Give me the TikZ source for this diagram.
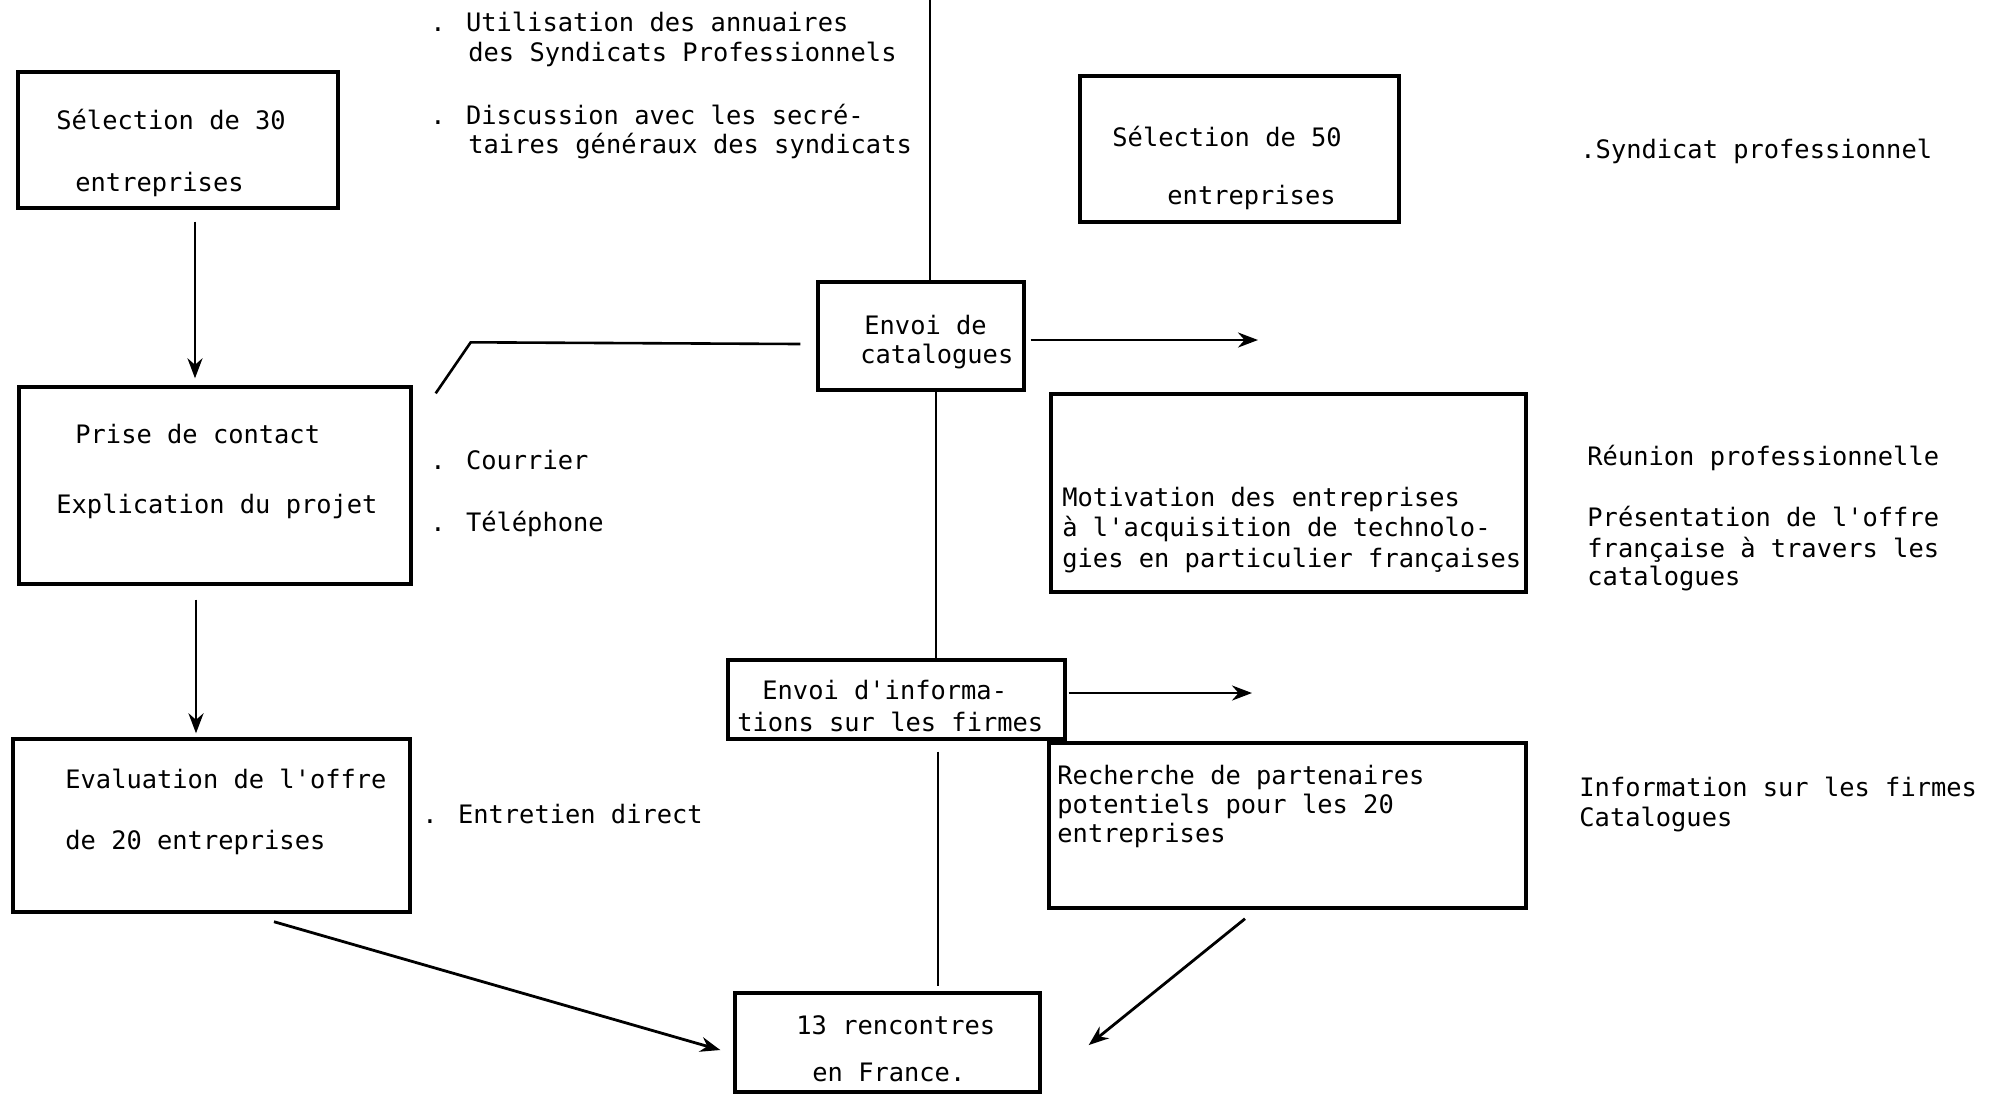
\documentclass[tikz,border=0pt]{standalone}
\usepackage{fontspec}
\newfontfamily\tw{DejaVu Sans Mono}
\usetikzlibrary{arrows.meta,fit}
\begin{document}
\begin{tikzpicture}[x=0.5pt,y=-0.5pt,
  box/.style={draw, line width=1.7pt, inner sep=0pt},
  txt/.style={font={\tw\fontsize{12.7pt}{15pt}\selectfont}, inner sep=0pt, anchor=west, text height=9.5pt, text depth=3pt},
  ctxt/.style={txt, anchor=center},
  conn/.style={line width=1.3pt},
  arr/.style={line width=1.4pt, -{Stealth[length=10pt,width=7.5pt]}},
  thinline/.style={line width=0.9pt}]
\useasboundingbox[fill=white] (0,0) rectangle (2000,1094);

% ---------- boxes ----------
\node[box, fit={(18,72)(338,208)}] (b30) {};
\node[box, fit={(19,387)(411,584)}] (bprise) {};
\node[box, fit={(13,739)(410,912)}] (beval) {};
\node[box, fit={(818,282)(1024,390)}] (bcat) {};
\node[box, fit={(728,660)(1065,739)}] (binfo) {};
\node[box, fit={(735,993)(1040,1092)}] (brenc) {};
\node[box, fit={(1080,76)(1399,222)}] (b50) {};
\node[box, fit={(1051,394)(1526,592)}] (bmot) {};
\node[box, fit={(1049,743)(1526,908)}] (brech) {};

% ---------- texts in boxes ----------
\node[txt] (t30a) at (56,123) {Sélection de 30};
\node[txt] (t30b) at (75,185) {entreprises};
\node[txt] (tpra) at (75,437) {Prise de contact};
\node[txt] (tprb) at (56,507) {Explication du projet};
\node[txt] (teva) at (65,782) {Evaluation de l'offre};
\node[txt] (tevb) at (65,843) {de 20 entreprises};
\node[txt] (tcata) at (864,328) {Envoi de};
\node[txt] (tcatb) at (860,357) {catalogues};
\node[txt] (tinfa) at (762,693) {Envoi d'informa-};
\node[txt] (tinfb) at (737,725) {tions sur les firmes};
\node[txt] (trena) at (796,1028) {13 rencontres};
\node[txt] (trenb) at (812,1075) {en France.};
\node[txt] (t50a) at (1112,140) {Sélection de 50};
\node[txt] (t50b) at (1167,198) {entreprises};
\node[txt] (tmota) at (1062,500) {Motivation des entreprises};
\node[txt] (tmotb) at (1062,530) {à l'acquisition de technolo-};
\node[txt] (tmotc) at (1062,561) {gies en particulier françaises};
\node[txt] (treca) at (1057,778) {Recherche de partenaires};
\node[txt] (trecb) at (1057,807) {potentiels pour les 20};
\node[txt] (trecc) at (1057,836) {entreprises};

% ---------- side texts ----------
\node[txt] (tuta) at (430,25) {. Utilisation des annuaires};
\node[txt] (tutb) at (468,55) {des Syndicats Professionnels};
\node[txt] (tdia) at (430,118) {. Discussion avec les secré-};
\node[txt] (tdib) at (468,147) {taires généraux des syndicats};
\node[txt] (tcou) at (430,463) {. Courrier};
\node[txt] (ttel) at (430,525) {. Téléphone};
\node[txt] (tent) at (422,817) {. Entretien direct};
\node[txt] (tsyn) at (1580,152) {.Syndicat professionnel};
\node[txt] (treu) at (1587,459) {Réunion professionnelle};
\node[txt] (tprea) at (1587,520) {Présentation de l'offre};
\node[txt] (tpreb) at (1587,551) {française à travers les};
\node[txt] (tprec) at (1587,579) {catalogues};
\node[txt] (tinfoa) at (1579,790) {Information sur les firmes};
\node[txt] (tinfob) at (1579,820) {Catalogues};

% ---------- connectors ----------
\coordinate (top) at (930,0);
\coordinate (c1) at (1258,340);
\coordinate (c2) at (1252,693);

\draw[arr] ([shift={(17,12)}]b30.south) -- ([shift={(17,-7)}]b30.south |- bprise.north);
\draw[arr] ([shift={(-19,14)}]bprise.south) -- ([shift={(-19,-4)}]bprise.south |- beval.north);
\draw[arr] ([shift={(62.5,8)}]beval.south) -- ([shift={(-13,7.5)}]brenc.west);
\draw[arr] ([shift={(-42.5,9)}]brech.south) -- ([shift={(47,2.5)}]brenc.east);

\draw[conn] ([shift={(-16,8)}]bcat.west) -- ([shift={(58,-43)}]bprise.north east) -- ([shift={(23,8)}]bprise.north east);
\draw[thinline] (top) -- (top |- bcat.north);
\draw[thinline] ([xshift=7.5pt]bcat.south) -- ([xshift=7.5pt]bcat.south |- binfo.north);
\draw[thinline] ([shift={(41.5,11)}]binfo.south) -- ([shift={(50.5,-5)}]brenc.north);
\draw[arr] ([shift={(5,4)}]bcat.east) -- (c1);
\draw[arr] ([shift={(2,-6.5)}]binfo.east) -- (c2);
\end{tikzpicture}
\end{document}
